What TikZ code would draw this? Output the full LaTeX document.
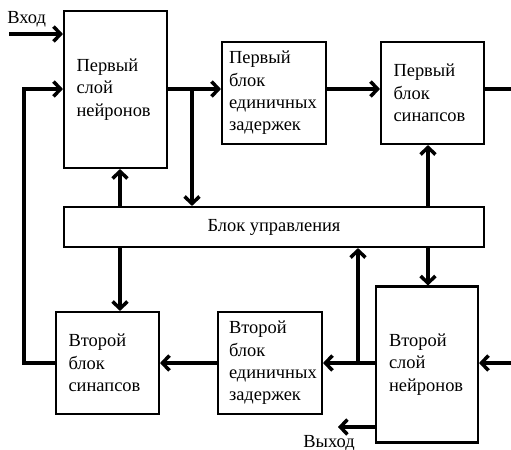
\documentclass[tikz,border=0pt]{standalone}
\usepackage{fontspec}
\setmainfont{Liberation Serif}
\usetikzlibrary{arrows.meta, positioning}

\begin{document}
\begin{tikzpicture}[
    x=0.02cm, y=-0.02cm,
    >={Straight Barb[length=4pt, width=8.5pt]},
    box/.style={rectangle, draw=black, line width=1.2pt, align=left, inner xsep=0.25cm, inner ysep=0pt, font=\fontsize{10.5}{12.75}\selectfont},
    arrow/.style={->, line width=2pt},
    label_node/.style={font=\fontsize{10.5}{12}\selectfont, inner sep=0pt}
]
\useasboundingbox (0,0) rectangle (511,450);

% --- Top row ---
\node[box, minimum width=2.06cm, minimum height=3.14cm, text width=1.56cm] (N1) at (115.5,89.5) {Первый\\слой\\нейронов};
\node[box, minimum width=2.08cm, minimum height=2.04cm, text width=1.80cm, inner xsep=0.14cm] (D1) at (274,93) {Первый\\блок\\единичных\\задержек};
\node[box, minimum width=2.06cm, minimum height=2.04cm, text width=1.56cm] (S1) at (432.5,93) {Первый\\блок\\синапсов};

% --- Control block ---
\node[box, minimum width=8.4cm, minimum height=0.8cm, align=center] (C) at (274,227) {Блок управления};

% --- Bottom row ---
\node[box, minimum width=2.06cm, minimum height=2.04cm, text width=1.56cm] (S2) at (107.5,363) {Второй\\блок\\синапсов};
\node[box, minimum width=2.08cm, minimum height=2.04cm, text width=1.64cm, inner xsep=0.22cm] (D2) at (270,363) {Второй\\блок\\единичных\\задержек};
\node[box, minimum width=2.04cm, minimum height=3.12cm, text width=1.52cm, inner xsep=0.26cm] (N2) at (427,364.5) {Второй\\слой\\нейронов};

% --- Helper coordinates ---
\coordinate (row1) at (0,89);
\coordinate (row2) at (0,363);
\coordinate (col_a) at (120,0);
\coordinate (col_b) at (428,0);
\coordinate (br1) at (192,89);
\coordinate (jn) at (358,363);
\coordinate (fb) at (24,89);
\coordinate (in1) at (9,34);
\coordinate (in2) at (511,363);
\coordinate (s1_out) at (511,89);
\coordinate (out2) at (338,427);

% Input / output labels
\node[label_node, anchor=base west] (lbl_in) at (7,23) {Вход};
\node[label_node, anchor=base] (lbl_out) at (329,447) {Выход};

% --- Arrows, top row ---
\draw[arrow] (in1) -- (N1.west |- in1);
\draw[arrow] (N1.east |- row1) -- (D1.west |- row1);
\draw[arrow] (D1.east |- row1) -- (S1.west |- row1);
\draw[line width=2pt] (S1.east |- row1) -- (s1_out);
\draw[arrow] (br1) -- (br1 |- C.north);

% Control block to top row
\draw[arrow] (C.north -| col_a) -- (N1.south -| col_a);
\draw[arrow] (C.north -| col_b) -- (S1.south -| col_b);

% Control block to bottom row
\draw[arrow] (C.south -| col_a) -- (S2.north -| col_a);
\draw[arrow] (C.south -| col_b) -- (N2.north -| col_b);

% --- Arrows, bottom row ---
\draw[arrow] (in2) -- (N2.east |- in2);
\draw[arrow] (N2.west |- row2) -- (D2.east |- row2);
\draw[arrow] (jn) -- (jn |- C.south);
\draw[arrow] (D2.west |- row2) -- (S2.east |- row2);
\draw[arrow] (N2.west |- out2) -- (out2);

% Feedback to first layer
\draw[arrow] (S2.west |- row2) -| (fb) -- (N1.west |- fb);

\end{tikzpicture}
\end{document}
